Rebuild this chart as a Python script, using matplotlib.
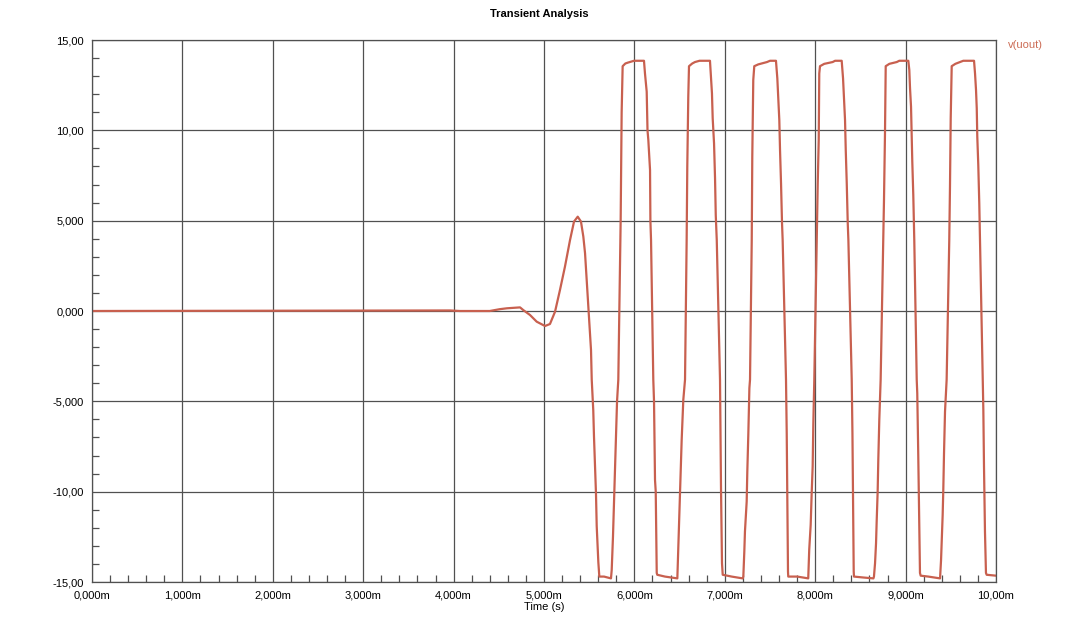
import matplotlib.pyplot as plt
from matplotlib.ticker import MultipleLocator, FixedLocator, FixedFormatter

plt.rcParams['font.family'] = ['Liberation Sans', 'DejaVu Sans']

# startup of the oscillator (time in ms, voltage in V)
t_startup = [0.0, 3.96, 4.07, 4.40, 4.51, 4.59, 4.735, 4.771, 4.845, 4.919, 5.011,
             5.066, 5.122, 5.177, 5.232, 5.288, 5.332, 5.373, 5.409, 5.435, 5.454,
             5.472, 5.490, 5.509, 5.520, 5.528, 5.545, 5.553, 5.564, 5.575, 5.583,
             5.601, 5.612, 5.664, 5.741]
v_startup = [0.0, 0.03, 0.0, 0.0, 0.1, 0.15, 0.2, 0.05, -0.22, -0.59, -0.83,
             -0.72, -0.04, 1.17, 2.46, 3.93, 4.95, 5.22, 4.95, 4.12, 3.2,
             1.72, 0.24, -1.42, -2.16, -3.8, -5.5, -6.95, -8.6, -10.1, -11.9,
             -13.9, -14.7, -14.7, -14.8]

# square-wave part
t_osc = [5.749, 5.763, 5.778, 5.808, 5.822, 5.848, 5.859, 5.870, 5.90, 5.929, 5.996,
         6.106, 6.117, 6.136, 6.145, 6.154, 6.173, 6.177, 6.184, 6.209, 6.217, 6.228,
         6.236, 6.247, 6.253, 6.338, 6.475,
         6.504, 6.523, 6.541, 6.560, 6.578, 6.585, 6.596, 6.604, 6.64, 6.670, 6.72,
         6.836, 6.847, 6.858, 6.866, 6.881, 6.892, 6.900, 6.911, 6.947, 6.951, 6.958,
         6.969, 6.977, 7.076, 7.198,
         7.205, 7.216, 7.223, 7.242, 7.249, 7.260, 7.272, 7.279, 7.298, 7.304, 7.315,
         7.326, 7.37, 7.467, 7.50, 7.566, 7.581, 7.592, 7.603, 7.611, 7.622, 7.633,
         7.640, 7.677, 7.685, 7.692, 7.699, 7.702, 7.802, 7.923,
         7.934, 7.950, 7.961, 7.972, 7.979, 7.990, 8.017, 8.028, 8.039, 8.045, 8.053,
         8.10, 8.193, 8.22, 8.293, 8.308, 8.319, 8.330, 8.338, 8.349, 8.360, 8.367,
         8.404, 8.412, 8.419, 8.426, 8.429, 8.53, 8.644,
         8.650, 8.662, 8.673, 8.680, 8.691, 8.698, 8.709, 8.724, 8.753, 8.761, 8.772,
         8.780, 8.82, 8.902, 8.93, 9.030, 9.041, 9.049, 9.060, 9.067, 9.074, 9.085,
         9.096, 9.123, 9.129, 9.140, 9.151, 9.159, 9.167, 9.251, 9.381,
         9.392, 9.399, 9.410, 9.417, 9.425, 9.436, 9.454, 9.483, 9.491, 9.499, 9.510,
         9.55, 9.60, 9.638, 9.757, 9.768, 9.779, 9.787, 9.793, 9.804, 9.815, 9.823,
         9.853, 9.860, 9.867, 9.878, 9.889, 9.897, 10.0]
v_osc = [-14.33, -12.5, -10.0, -5.0, -3.8, 5.0, 11.0, 13.55, 13.7, 13.75, 13.85,
         13.85, 13.15, 12.14, 10.0, 9.47, 7.8, 5.0, 3.93, -3.8, -5.0, -9.35,
         -10.0, -14.5, -14.6, -14.7, -14.8,
         -10.27, -7.13, -4.92, -3.8, 3.93, 7.98, 11.86, 13.55, 13.7, 13.78, 13.85,
         13.85, 12.97, 12.05, 10.67, 9.28, 7.35, 5.3, 3.93, -3.8, -6.2, -9.8,
         -13.96, -14.6, -14.7, -14.8,
         -14.7, -13.3, -12.2, -10.55, -8.89, -6.86, -4.27, -3.8, 3.93, 8.54, 12.79,
         13.55, 13.65, 13.78, 13.85, 13.85, 12.88, 11.77, 10.57, 8.9, 7.07, 4.86,
         3.93, -3.8, -6.78, -10.65, -14.42, -14.7, -14.7, -14.8,
         -13.2, -11.84, -10.1, -8.6, -6.3, -3.8, 3.93, 7.07, 9.47, 13.15, 13.55,
         13.68, 13.78, 13.85, 13.85, 12.88, 11.77, 10.57, 8.9, 7.07, 4.86, 3.93,
         -3.8, -6.78, -10.65, -14.42, -14.7, -14.75, -14.8,
         -14.7, -13.96, -12.85, -11.65, -9.98, -8.24, -6.03, -3.8, 3.93, 6.15, 9.84,
         13.55, 13.68, 13.78, 13.85, 13.85, 13.34, 12.33, 11.31, 9.65, 8.27, 6.42,
         3.93, -3.8, -4.55, -7.97, -11.93, -14.5, -14.65, -14.7, -14.8,
         -13.8, -12.77, -11.29, -9.9, -7.87, -5.57, -3.8, 3.93, 6.88, 10.67, 13.55,
         13.68, 13.78, 13.85, 13.85, 13.15, 12.23, 11.22, 9.65, 8.08, 5.96, 3.93,
         -3.8, -5.48, -8.52, -12.21, -14.5, -14.6, -14.65]

x_ticks = list(range(0, 11))
x_labels = ['0,000m', '1,000m', '2,000m', '3,000m', '4,000m', '5,000m',
            '6,000m', '7,000m', '8,000m', '9,000m', '10,00m']
y_ticks = [-15, -10, -5, 0, 5, 10, 15]
y_labels = ['-15,00', '-10,00', '-5,000', '0,000', '5,000', '10,00', '15,00']

line_color = '#C8604F'
grid_color = '#505050'

fig = plt.figure(figsize=(10.66, 6.21), dpi=100)
ax = fig.add_axes([92 / 1066, 1 - 582 / 621, (996 - 92) / 1066, (582 - 40) / 621])

ax.plot(t_startup + t_osc, v_startup + v_osc, color=line_color, lw=1.6)

ax.set_xlim(0, 10)
ax.set_ylim(-15, 15)
ax.xaxis.set_major_locator(FixedLocator(x_ticks))
ax.xaxis.set_major_formatter(FixedFormatter(x_labels))
ax.yaxis.set_major_locator(FixedLocator(y_ticks))
ax.yaxis.set_major_formatter(FixedFormatter(y_labels))
ax.xaxis.set_minor_locator(MultipleLocator(0.2))
ax.yaxis.set_minor_locator(MultipleLocator(1))

ax.tick_params(which='major', length=0, labelsize=8, pad=6)
ax.tick_params(which='minor', direction='in', length=5, width=0.9, color=grid_color)
ax.grid(True, which='major', color=grid_color, lw=0.9)
for sp in ax.spines.values():
    sp.set_color(grid_color)
    sp.set_linewidth(0.9)

ax.set_xlabel('Time (s)', fontsize=8, labelpad=1)
fig.text(539 / 1066, 1 - 14 / 621, 'Transient Analysis', fontsize=8,
         fontweight='bold', ha='center', va='center')
fig.text(1008 / 1066, 1 - 45 / 621, 'v(uout)', fontsize=8, color='#CC6C55',
         ha='left', va='center')

plt.savefig('out.png', dpi=100)
